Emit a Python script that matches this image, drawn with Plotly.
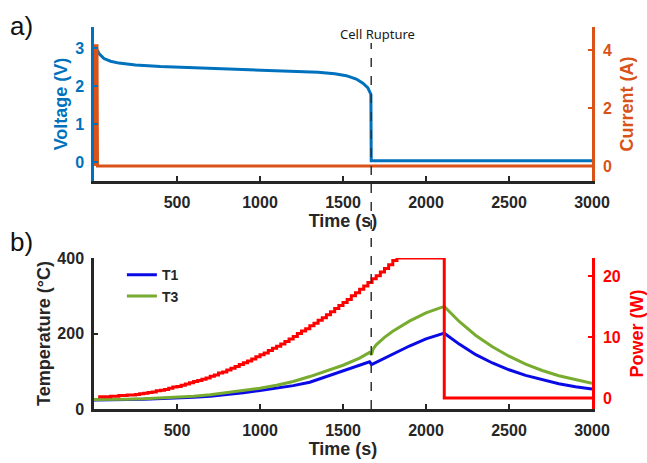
import plotly.graph_objects as go

# ---------------- panel a) discharge until rupture ----------------
volt_t = [20, 30, 60, 100, 150, 250, 400, 600, 800, 1000, 1200, 1350, 1450, 1520,
          1580, 1620, 1650, 1668, 1670, 3000]
volt_v = [2.95, 2.85, 2.72, 2.65, 2.60, 2.55, 2.51, 2.48, 2.45, 2.43, 2.40, 2.36, 2.32,
          2.27, 2.18, 2.07, 1.95, 1.78, 0.03, 0.03]

curr_t = [3, 6, 9, 12, 15, 18, 21, 3000]
curr_a = [0.0, 4.2, 0.0, 4.2, 0.0, 4.2, 0.0, 0.0]

# ---------------- panel b) heating ----------------
t1_t = [0, 100, 200, 300, 400, 500, 600, 700, 800, 900, 1000, 1100, 1200, 1300, 1400,
        1500, 1600, 1660, 1672, 1700, 1800, 1900, 2000, 2110, 2200, 2300, 2400, 2500,
        2600, 2700, 2800, 2900, 3000]
t1_c = [24, 24, 25, 26, 27, 29, 31, 34, 38, 43, 49, 55, 62, 71, 86,
        103, 116, 125, 118, 124, 147, 167, 186, 201, 172, 144, 122, 104,
        89, 77, 67, 59, 53]

t3_t = [0, 100, 200, 300, 400, 500, 600, 700, 800, 900, 1000, 1100, 1200, 1300, 1400,
        1500, 1600, 1660, 1672, 1680, 1700, 1750, 1800, 1850, 1900, 2000, 2110, 2200,
        2300, 2400, 2500, 2600, 2700, 2800, 2900, 3000]
t3_c = [25, 25, 26, 27, 29, 31, 34, 38, 43, 49, 55, 63, 73, 86, 100,
        116, 135, 150, 144, 158, 170, 190, 206, 220, 233, 255, 272, 232,
        195, 165, 140, 119, 102, 88, 77, 68]

power_t = [25, 50, 75, 100, 125, 150, 175, 200, 225, 250, 275, 300, 325, 350, 375, 400,
           425, 450, 475, 500, 525, 550, 575, 600, 625, 650, 675, 700, 725, 750, 775,
           800, 825, 850, 875, 900, 925, 950, 975, 1000, 1025, 1050, 1075, 1100, 1125,
           1150, 1175, 1200, 1225, 1250, 1275, 1300, 1325, 1350, 1375, 1400, 1425,
           1450, 1475, 1500, 1525, 1550, 1575, 1600, 1625, 1650, 1675, 1700, 1725,
           1750, 1775, 1800, 1825, 2110, 3000]
power_w = [0.2, 0.2, 0.2, 0.3, 0.3, 0.4, 0.4, 0.5, 0.5, 0.6, 0.7, 0.8, 0.9, 1.0, 1.2, 1.3,
           1.4, 1.6, 1.8, 1.9, 2.1, 2.3, 2.5, 2.7, 2.9, 3.1, 3.3, 3.6, 3.8, 4.1, 4.3,
           4.6, 4.9, 5.2, 5.5, 5.8, 6.1, 6.4, 6.8, 7.1, 7.4, 7.8, 8.2, 8.5, 8.9,
           9.3, 9.7, 10.1, 10.6, 11.0, 11.4, 11.9, 12.3, 12.8, 13.2, 13.7, 14.2,
           14.7, 15.2, 15.7, 16.2, 16.8, 17.3, 17.9, 18.4, 19.0, 19.6, 20.1, 20.7,
           21.3, 21.9, 22.6, 23.0, 0.0, 0.0]

rupture_t = 1670
time_ticks = [500, 1000, 1500, 2000, 2500, 3000]

BLUE = "#0072BD"
ORANGE = "#D95319"
RED = "#FF0000"
T1_COL = "#0A0AE6"
T3_COL = "#77AC30"
TXT = "#262626"
FONT = "Liberation Sans, Arial, sans-serif"

fig = go.Figure()

fig.add_trace(go.Scatter(x=volt_t, y=volt_v, mode="lines", line=dict(color=BLUE, width=3),
                         xaxis="x", yaxis="y", showlegend=False))
fig.add_trace(go.Scatter(x=curr_t, y=curr_a, mode="lines", line=dict(color=ORANGE, width=3),
                         xaxis="x", yaxis="y2", showlegend=False))

fig.add_trace(go.Scatter(x=t1_t, y=t1_c, mode="lines", name="T1",
                         line=dict(color=T1_COL, width=3), xaxis="x2", yaxis="y3"))
fig.add_trace(go.Scatter(x=t3_t, y=t3_c, mode="lines", name="T3",
                         line=dict(color=T3_COL, width=3), xaxis="x2", yaxis="y3"))
fig.add_trace(go.Scatter(x=power_t, y=power_w, mode="lines", line_shape="hv",
                         line=dict(color=RED, width=3), xaxis="x2", yaxis="y4",
                         showlegend=False))

tick_font = dict(family=FONT, size=16, color=TXT, weight="bold")

def x_axis(domain_anchor, standoff):
    return dict(range=[0, 3000], tickvals=time_ticks, ticks="inside", ticklen=5,
                tickwidth=2, tickcolor=TXT, showline=True, linecolor=TXT, linewidth=2.5,
                showgrid=False, zeroline=False, anchor=domain_anchor, domain=[0, 1],
                automargin=False, tickfont=tick_font, ticklabelstandoff=5,
                title=dict(text="Time (s)", standoff=standoff,
                           font=dict(family=FONT, size=18, color=TXT, weight="bold")))

def y_axis(color, rng, vals, domain, side="left", overlay=None, anchor=None, title="",
           label_gap=4, standoff=3):
    d = dict(range=rng, tickvals=vals, ticks="inside", ticklen=4, tickwidth=2,
             tickcolor=color, showline=True, linecolor=color, linewidth=2.5,
             showgrid=False, zeroline=False, side=side, automargin=False,
             tickfont=dict(family=FONT, size=16, color=color, weight="bold"),
             ticklabelstandoff=label_gap,
             title=dict(text=title, standoff=standoff,
                        font=dict(family=FONT, size=18, color=color, weight="bold")))
    if overlay:
        d["overlaying"] = overlay
    else:
        d["domain"] = domain
    if anchor:
        d["anchor"] = anchor
    return d

top_dom = [0.597, 1.0]
bot_dom = [0.0, 0.395]

fig.update_layout(
    width=647, height=463,
    margin=dict(l=94, r=55, t=27, b=54),
    paper_bgcolor="white", plot_bgcolor="white",
    font=dict(family=FONT, color=TXT),
    xaxis=x_axis("y", 5),
    xaxis2=x_axis("y3", 4),
    yaxis=y_axis(BLUE, [-0.5, 3.55], [0, 1, 2, 3], top_dom, anchor="x",
                 title="Voltage (V)"),
    yaxis2=y_axis(ORANGE, [-0.52, 4.8], [0, 2, 4], None, side="right", overlay="y",
                  anchor="x", title="Current (A)", label_gap=5, standoff=10),
    yaxis3=y_axis(TXT, [0, 400], [0, 200, 400], bot_dom, anchor="x2",
                  title="Temperature (°C)"),
    yaxis4=y_axis(RED, [-1.8, 23], [0, 10, 20], None, side="right", overlay="y3",
                  anchor="x2", title="Power (W)", label_gap=5, standoff=11),
    legend=dict(x=0.056, y=0.392, xanchor="left", yanchor="top",
                bgcolor="rgba(0,0,0,0)", tracegroupgap=0,
                font=dict(family=FONT, size=14, color=TXT, weight="bold")),
    showlegend=True,
)

# rupture marker spanning both panels
fig.add_shape(type="line", xref="x", yref="paper", x0=rupture_t, x1=rupture_t,
              y0=0, y1=0.958, line=dict(color="#333333", width=1.5, dash="dash"))
fig.add_annotation(x=rupture_t, xref="x", y=0.982, yref="paper", text="Cell Rupture",
                   showarrow=False, xanchor="center", yanchor="middle", xshift=6,
                   font=dict(family="Noto Sans, sans-serif", size=13, color="#1a1a1a"))

# panel letters
for letter, ypx in (("a)", 26), ("b)", 242)):
    fig.add_annotation(x=-0.172, xref="paper", y=(409 - ypx) / 382, yref="paper",
                       text=letter, showarrow=False, xanchor="left", yanchor="middle",
                       font=dict(family=FONT, size=26, color="#111111"))

fig.write_html("out.html", config={"displayModeBar": False})
